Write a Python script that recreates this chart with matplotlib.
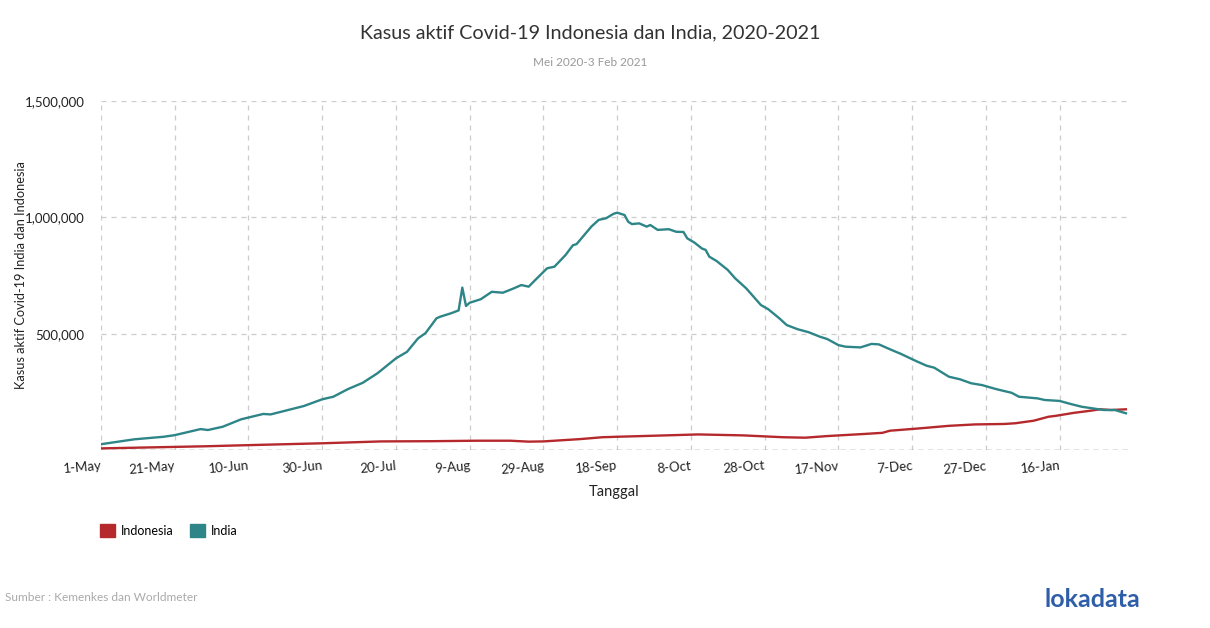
import numpy as np
import pandas as pd
import matplotlib
matplotlib.use('Agg')
import matplotlib.pyplot as plt
from matplotlib.patches import Patch
from matplotlib.ticker import FuncFormatter

plt.rcParams['font.family'] = ['Lato', 'DejaVu Sans']

# Data: days since 1 May 2020, active cases (thousands)
start = pd.Timestamp('2020-05-01')

india_days = [0, 9, 17, 20, 27, 29, 33, 38, 44, 46, 55, 60, 63, 67, 71, 75, 80, 83,
              86, 88, 91, 92, 95, 96, 97, 98, 99, 100, 103, 106, 109, 112, 114, 116,
              118, 121, 123, 126, 128, 129, 133, 135, 137, 139, 140, 142, 143, 144,
              146, 148, 149, 151, 154, 156, 158, 159, 161, 163, 164, 165, 167, 170,
              172, 175, 177, 179, 181, 184, 186, 189, 192, 195, 197, 200, 202, 206,
              209, 211, 214, 217, 219, 221, 224, 226, 230, 233, 236, 239, 243, 247,
              249, 254, 256, 260, 263, 266, 269, 272, 275, 278]
india_vals = [25, 46, 57, 64, 90, 86, 100, 132, 155, 153, 189, 218, 229, 262, 289, 330,
              394, 422, 480, 502, 566, 573, 588, 594, 600, 698, 619, 633, 648, 680, 676,
              695, 709, 702, 734, 781, 788, 838, 880, 885, 960, 989, 996, 1015, 1020,
              1010, 981, 971, 974, 960, 967, 946, 949, 938, 937, 910, 891, 866, 860,
              831, 812, 774, 738, 695, 659, 623, 605, 566, 537, 519, 506, 487, 477, 451,
              444, 441, 456, 454, 433, 413, 398, 383, 362, 354, 315, 304, 287, 279, 261,
              246, 229, 222, 215, 211, 198, 186, 179, 172, 172, 158]

indo_days = [0, 28, 40, 60, 76, 90, 102, 111, 116, 120, 130, 136, 140, 149, 162, 174,
             185, 191, 197, 207, 212, 214, 222, 230, 237, 245, 248, 253, 257, 259, 264,
             268, 271, 274, 278]
indo_vals = [7, 16, 21, 29, 37, 38, 40, 40, 36, 37, 47, 55, 57, 61, 67, 63, 55, 53, 60,
             69, 74, 83, 93, 104, 110, 112, 115, 126, 143, 147, 160, 168, 175, 172, 175]

india_dates = start + pd.to_timedelta(india_days, unit='D')
indo_dates = start + pd.to_timedelta(indo_days, unit='D')
india_cases = np.array(india_vals) * 1000
indo_cases = np.array(indo_vals) * 1000

tick_dates = pd.date_range(start, periods=14, freq='20D')
tick_labels = [f"{d.day}-{d.strftime('%b')}" for d in tick_dates]
y_ticks = [500000, 1000000, 1500000]

c_indo = '#b5292d'
c_india = '#2e8587'

fig = plt.figure(figsize=(12.1, 6.28), dpi=100)
ax = fig.add_axes([0.0835, 0.2834, 0.8485, 0.5558])

ax.plot(indo_dates, indo_cases, color=c_indo, lw=1.7, zorder=3)
ax.plot(india_dates, india_cases, color=c_india, lw=1.7, zorder=3)

ax.set_xlim(start, pd.Timestamp('2021-02-03 12:00'))
ax.set_ylim(0, 1500000)

ax.set_xticks(tick_dates)
ax.set_xticklabels(tick_labels, rotation=5, ha='right', rotation_mode='anchor')
ax.set_yticks(y_ticks)
ax.yaxis.set_major_formatter(FuncFormatter(lambda v, p: f"{int(v):,}"))
ax.tick_params(axis='both', length=0, labelsize=9.5, labelcolor='#222222')
ax.tick_params(axis='x', pad=7)
ax.tick_params(axis='y', pad=12)

ax.grid(True, color='#cccccc', linestyle=(0, (4, 4)), lw=0.9)
ax.axhline(0, color='#777777', linestyle=(0, (4, 3)), lw=1.0, zorder=2)
for s in ax.spines.values():
    s.set_visible(False)

ax.set_xlabel('Tanggal', fontsize=10.5, color='#222222', labelpad=7)
ax.set_ylabel('Kasus aktif Covid-19 India dan Indonesia', fontsize=9.2, color='#222222')
ax.yaxis.set_label_coords(-0.072, 0.5)

fig.text(0.4876, 0.947, 'Kasus aktif Covid-19 Indonesia dan India, 2020-2021',
         ha='center', va='center', fontsize=14.2, color='#333333')
fig.text(0.4876, 0.901, 'Mei 2020-3 Feb 2021', ha='center', va='center',
         fontsize=8.5, color='#999999')

handles = [Patch(color=c_indo, label='Indonesia'), Patch(color=c_india, label='India')]
fig.legend(handles=handles, loc='center left', bbox_to_anchor=(0.073, 0.155), ncol=2,
           frameon=False, handlelength=1.2, handleheight=1.2, handletextpad=0.5,
           columnspacing=1.3, fontsize=9)

fig.text(0.004, 0.048, 'Sumber : Kemenkes dan Worldmeter', ha='left', va='center',
         fontsize=8.6, color='#aaaaaa')
fig.text(0.942, 0.045, 'lokadata', ha='right', va='center', fontsize=18,
         color='#2f5ea8', fontweight='bold')

fig.savefig('out.png', dpi=100)
